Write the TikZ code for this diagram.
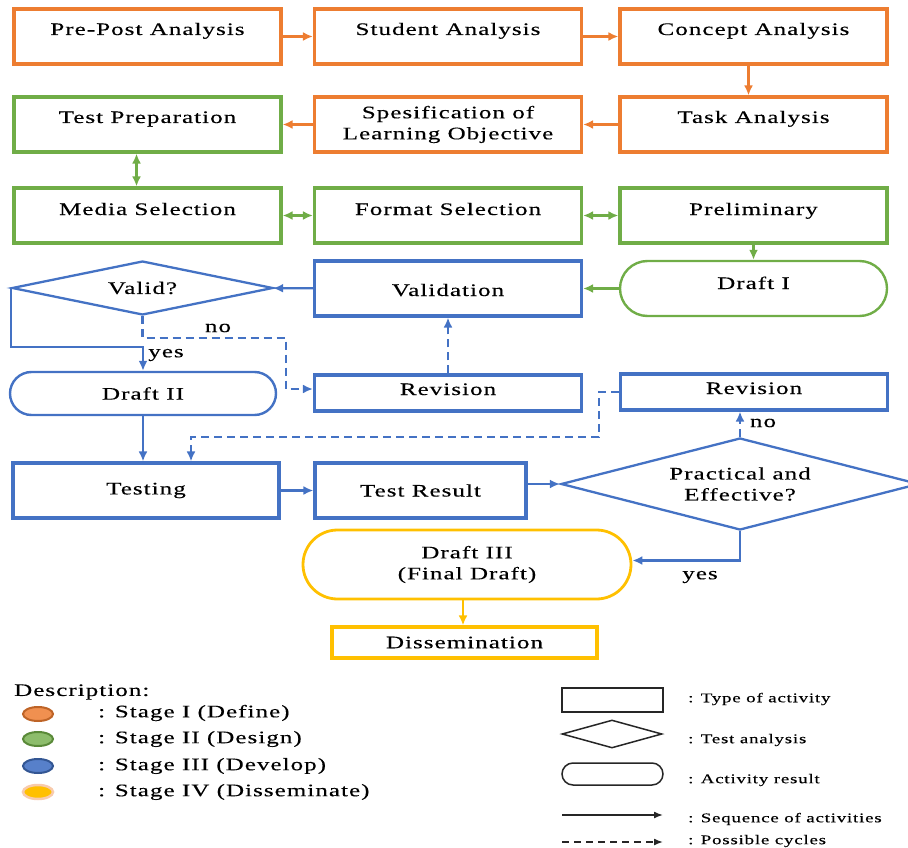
\documentclass[tikz,border=0pt]{standalone}
\usepackage{fontspec}
\setmainfont{Liberation Serif}[FakeStretch=1.42,LetterSpace=6,FakeBold=0.3]
\usetikzlibrary{arrows.meta,shapes.geometric}
\definecolor{cor}{HTML}{ED7D31}
\definecolor{cgr}{HTML}{70AD47}
\definecolor{cbl}{HTML}{4472C4}
\definecolor{cye}{HTML}{FFC000}
\begin{document}
\begin{tikzpicture}[x=1pt,y=-1pt,
  every node/.style={font=\fontsize{17.6}{21}\selectfont},
  box/.style={draw, line width=3.2pt, inner sep=0pt, minimum width=267pt},
  rbox/.style={draw, line width=2.4pt, rounded corners=#1, inner sep=0pt},
  dia/.style={draw=cbl, diamond, line width=2.3pt, inner sep=0pt},
  tip/.style={-{Latex[length=10pt,width=9pt]}},
  dtip/.style={{Latex[length=10pt,width=9pt]}-{Latex[length=10pt,width=9pt]}},
  oarr/.style={draw=cor, line width=2.3pt, tip},
  garr/.style={draw=cgr, line width=2.3pt, tip},
  gdarr/.style={draw=cgr, line width=2.3pt, dtip},
  barr/.style={draw=cbl, line width=2.3pt, tip},
  bdash/.style={draw=cbl, line width=2.3pt, tip, dash pattern=on 8pt off 5pt},
  yarr/.style={draw=cye, line width=2.3pt, tip},
  lbl/.style={inner sep=0pt},
  ltxt/.style={anchor=west, inner sep=0pt, font=\fontsize{13.3}{16}\selectfont},
  stxt/.style={anchor=west, inner sep=0pt},
  lgd/.style={draw=black!85, line width=1.5pt, inner sep=0pt},
  leg/.style={ellipse, line width=2pt, minimum width=30pt, minimum height=14pt, inner sep=0pt}
]
\useasboundingbox (0,0) rectangle (908,848);
\clip (0,0) rectangle (908,848);

% Stage I / II boxes
\node[box, draw=cor, text height=26pt, text depth=29pt] (ppa) at (147.5,36.5) {Pre-Post Analysis};
\node[box, draw=cor, text height=26pt, text depth=29pt] (sa) at (448,36.5) {Student Analysis};
\node[box, draw=cor, text height=26pt, text depth=29pt] (ca) at (753.5,36.5) {Concept Analysis};
\node[box, draw=cgr, text height=26pt, text depth=29pt] (tp) at (147.5,124.5) {Test Preparation};
\node[box, draw=cor, minimum height=55pt, align=center] (sp) at (448,124.5) {Spesification of\\Learning Objective};
\node[box, draw=cor, text height=26pt, text depth=29pt] (ta) at (753.5,124.5) {Task Analysis};
\node[box, draw=cgr, text height=27pt, text depth=28pt] (ms) at (147.5,215.5) {Media Selection};
\node[box, draw=cgr, text height=27pt, text depth=28pt] (fs) at (448,215.5) {Format Selection};
\node[box, draw=cgr, text height=27pt, text depth=28pt] (pre) at (753.5,215.5) {Preliminary};

% Stage III
\node[rbox=27.5pt, draw=cgr, minimum width=267pt, text height=28pt, text depth=27pt] (d1) at (753.5,288.5) {Draft I};
\node[box, draw=cbl, text height=35pt, text depth=20pt] (val) at (448,288.5) {Validation};
\node[dia, aspect=4.8, minimum width=261pt, minimum height=54pt] (valid) at (142.5,288) {Valid?};
\node[rbox=21.5pt, draw=cbl, minimum width=266pt, minimum height=43pt] (d2) at (143,393.5) {Draft II};
\node[box, draw=cbl, text height=20pt, text depth=16pt] (revL) at (448,393) {Revision};
\node[box, draw=cbl, text height=20pt, text depth=16pt] (revR) at (754,392) {Revision};
\node[box, draw=cbl, minimum width=266pt, minimum height=55pt] (test) at (146,490.5) {Testing};
\node[box, draw=cbl, minimum width=211pt, minimum height=55pt] (tr) at (420.5,490.5) {Test Result};
\node[dia, aspect=3.9, minimum width=358pt, minimum height=92pt, align=center] (pe) at (740,484) {Practical and\\Effective?};

% Stage IV
\node[rbox=34.5pt, draw=cye, line width=2.8pt, minimum width=328pt, minimum height=69pt, align=center] (d3) at (467,564.5) {Draft III\\(Final Draft)};
\node[box, draw=cye, minimum width=265pt, minimum height=31pt] (diss) at (464.5,642.5) {Dissemination};

% connectors stage I/II
\draw[oarr] (ppa) -- (sa);
\draw[oarr] (sa) -- (ca);
\draw[oarr] ([xshift=-5pt]ca.south) -- ([xshift=-5pt]ta.north);
\draw[oarr] (ta) -- (sp);
\draw[oarr] (sp) -- (tp);
\draw[gdarr] ([xshift=-11pt]tp.south) -- ([xshift=-11pt]ms.north);
\draw[gdarr] (ms) -- (fs);
\draw[gdarr] (fs) -- (pre);
\draw[garr] (pre) -- (d1);
\draw[garr] (d1) -- (val);

% connectors stage III
\draw[barr] (val) -- (valid);
\draw[barr] (valid.west) -- ++(0,59) -| (d2.north);
\node[lbl] (yes1) at (166,355) {yes};
\draw[bdash] (valid.south) |- ++(143.5,22) |- ([yshift=4pt]revL.west);
\node[lbl] (no1) at (218,328) {no};
\draw[bdash] (revL) -- (val);
\draw[barr] (d2.south) -- (d2.south |- test.north);
\draw[bdash] (revR.west) -- ++(-20,0) -- ++(0,45) -| ([xshift=45pt]test.north);
\draw[barr] (test) -- (tr);
\draw[barr] (tr.east |- pe.west) -- (pe.west);
\draw[bdash] (pe.north) -- (pe.north |- revR.south);
\node[lbl] (no2) at (763,423) {no};
\draw[barr] (pe.south) |- ([yshift=4pt]d3.east);
\node[lbl] (yes2) at (700,577) {yes};
\draw[yarr] ([xshift=-4pt]d3.south) -- ([xshift=-4pt]d3.south |- diss.north);

% legend left
\node[stxt] (desc) at (14,692) {Description:};
\node[leg, draw=cor!80!black, fill=cor!85!white] (e1) at (38,714) {};
\node[leg, draw=cgr!80!black, fill=cgr!80!white] (e2) at (38,739) {};
\node[leg, draw=cbl!75!black, fill=cbl!90!white] (e3) at (38,766) {};
\node[leg, draw=cor!40!white, fill=cye, line width=2.5pt] (e4) at (38,792) {};
\node[stxt] (s1) at (98,713) {: Stage I (Define)};
\node[stxt] (s2) at (98,739) {: Stage II (Design)};
\node[stxt] (s3) at (98,766) {: Stage III (Develop)};
\node[stxt] (s4) at (98,792) {: Stage IV (Disseminate)};

% legend right
\node[lgd, minimum width=101pt, minimum height=24pt] (lr) at (612.5,700) {};
\node[lgd, diamond, aspect=3.6, minimum width=100pt, minimum height=28pt] (ld) at (612,734) {};
\node[lgd, rounded corners=11pt, minimum width=101pt, minimum height=22pt] (lo) at (612.5,774) {};
\coordinate (a1) at (562,815);
\coordinate (a2) at (663,815);
\coordinate (b1) at (562,842);
\coordinate (b2) at (663,842);
\draw[black!85, line width=1.5pt, -{Latex[length=9pt,width=7pt]}] (a1) -- (a2);
\draw[black!85, line width=1.5pt, dash pattern=on 7pt off 5pt, -{Latex[length=9pt,width=7pt]}] (b1) -- (b2);
\node[ltxt] (t1) at (688,699) {: Type of activity};
\node[ltxt] (t2) at (688,740) {: Test analysis};
\node[ltxt] (t3) at (688,780) {: Activity result};
\node[ltxt] (t4) at (688,819) {: Sequence of activities};
\node[ltxt] (t5) at (688,841) {: Possible cycles};
\end{tikzpicture}
\end{document}
